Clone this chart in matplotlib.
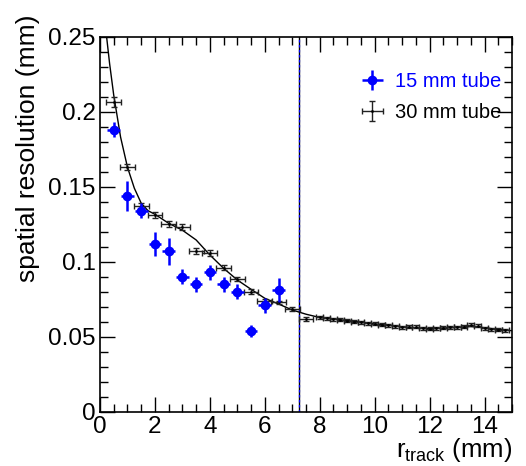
import matplotlib
matplotlib.use("Agg")
import matplotlib.pyplot as plt
from matplotlib.ticker import MultipleLocator

plt.rcParams['font.family'] = ['Liberation Sans', 'DejaVu Sans']

# 15 mm tube
r15 = [0.5, 1.0, 1.5, 2.0, 2.5, 3.0, 3.5, 4.0, 4.5, 5.0, 5.5, 6.0, 6.5]
s15 = [0.188, 0.144, 0.134, 0.112, 0.107, 0.090, 0.085, 0.093, 0.085, 0.080, 0.054, 0.071, 0.081]
e15 = [0.005, 0.010, 0.005, 0.008, 0.009, 0.005, 0.005, 0.005, 0.005, 0.005, 0.004, 0.005, 0.008]
xe15 = 0.23

# 30 mm tube, coarse bins
r30a = [0.5, 1.0, 1.5, 2.0, 2.5, 3.0, 3.5, 4.0, 4.5, 5.0, 5.5, 6.0, 6.5, 7.0, 7.5]
s30a = [0.2067, 0.163, 0.137, 0.131, 0.125, 0.1233, 0.107, 0.1056, 0.096, 0.0885,
        0.080, 0.0738, 0.0729, 0.0683, 0.0616]
e30a = [0.0033, 0.002, 0.002, 0.002, 0.002, 0.002, 0.002, 0.002, 0.0015, 0.0015,
        0.0015, 0.0015, 0.0012, 0.0012, 0.0012]
xe30a = 0.27

# 30 mm tube, fine bins
r30b = [8.0, 8.25, 8.5, 8.75, 9.0, 9.25, 9.5, 9.75, 10.0, 10.25, 10.5, 10.75, 11.0,
        11.25, 11.5, 11.75, 12.0, 12.25, 12.5, 12.75, 13.0, 13.25, 13.5, 13.75,
        14.0, 14.25, 14.5, 14.75]
s30b = [0.0629, 0.0622, 0.0617, 0.0613, 0.0607, 0.0601, 0.0596, 0.0591, 0.0586,
        0.0581, 0.0576, 0.0571, 0.0564, 0.0568, 0.0568, 0.0555, 0.0552, 0.0556,
        0.0560, 0.0562, 0.0562, 0.0565, 0.0580, 0.0572, 0.0558, 0.0551, 0.0546, 0.0543]
e30b = 0.001
xe30b = 0.125

# fit curve
fit_r = [0.24, 0.35, 0.5, 0.75, 1.0, 1.25, 1.5, 1.75, 2.0, 2.5, 3.0, 3.5, 4.0, 4.5,
         5.0, 5.5, 6.0, 6.5, 7.0, 7.5, 8.0, 9.0, 10.0, 10.5, 11.0, 12.0, 12.5, 13.0,
         13.5, 14.0, 14.5, 15.0]
fit_s = [0.25, 0.232, 0.211, 0.183, 0.163, 0.149, 0.139, 0.134, 0.1316, 0.1256,
         0.121, 0.1145, 0.1045, 0.0956, 0.0878, 0.0816, 0.0756, 0.0718, 0.0678,
         0.065, 0.0628, 0.0608, 0.0585, 0.0576, 0.0566, 0.0553, 0.0558, 0.0562,
         0.0568, 0.0560, 0.0548, 0.0540]

tube_edge = 7.25

fig = plt.figure(figsize=(5.26, 4.66), dpi=100)
ax = fig.add_axes([100/526, 1 - 411.7/466, 412/526, 375/466])

ax.plot(fit_r, fit_s, color='black', lw=1.0, zorder=2)

h30 = ax.errorbar(r30a, s30a, yerr=e30a, xerr=xe30a, fmt='.', ms=2, color='black',
                  ecolor='#222222', elinewidth=1.0, capsize=2, capthick=1.0, zorder=3)
ax.errorbar(r30b, s30b, yerr=e30b, xerr=xe30b, fmt='.', ms=2, color='black',
            ecolor='#222222', elinewidth=1.0, capsize=2, capthick=1.0, zorder=3)
h15 = ax.errorbar(r15, s15, yerr=e15, xerr=xe15, fmt='o', ms=6, color='#0000ff',
                  ecolor='#0000ff', elinewidth=1.8, capsize=0, zorder=4)

ax.axvline(tube_edge, color='black', lw=1.0, zorder=1)
ax.axvline(tube_edge, color='#0000ff', lw=0.9, dashes=(2, 2), zorder=1)

ax.set_xlim(0, 15)
ax.set_ylim(0, 0.25)
ax.xaxis.set_major_locator(MultipleLocator(2))
ax.xaxis.set_minor_locator(MultipleLocator(0.5))
ax.set_yticks([0, 0.05, 0.1, 0.15, 0.2, 0.25])
ax.set_yticklabels(['0', '0.05', '0.1', '0.15', '0.2', '0.25'])
ax.yaxis.set_minor_locator(MultipleLocator(0.01))
ax.tick_params(which='both', direction='in', top=True, right=True, width=1.0,
               labelsize=17.5, pad=3)
ax.tick_params(which='major', length=11)
ax.tick_params(which='minor', length=5.5)
for sp in ax.spines.values():
    sp.set_linewidth(1.2)

ax.set_ylabel('spatial resolution (mm)', fontsize=19)
ax.yaxis.set_label_coords(-0.175, 1.06, transform=ax.transAxes)
ax.yaxis.label.set_ha('right')
ax.yaxis.label.set_va('center')

fig.text(512/526, 1 - 450/466, r'r$_{\mathregular{track}}$ (mm)', fontsize=18.5,
         ha='right', va='center')

leg = ax.legend([h15, h30], ['15 mm tube', '30 mm tube'], loc='upper left',
                bbox_to_anchor=(0.588, 0.955), frameon=False, fontsize=14.5,
                handlelength=1.2, handletextpad=0.5, labelspacing=0.6)
leg.get_texts()[0].set_color('#0000ff')

fig.savefig('out.png', dpi=100)
